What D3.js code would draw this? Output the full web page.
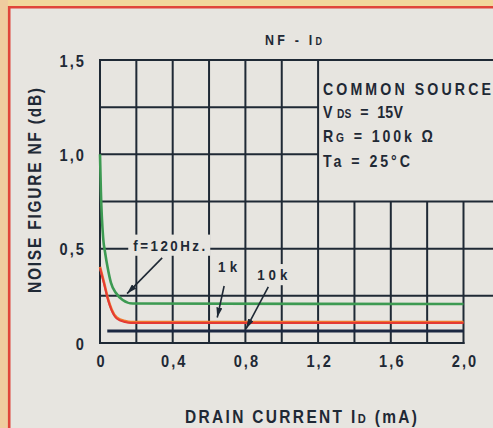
<!DOCTYPE html>
<html>
<head>
<meta charset="utf-8">
<script src="https://cdn.jsdelivr.net/npm/d3@7"></script>
<style>
  html, body { margin: 0; padding: 0; background: #e7e5e0; }
  svg { display: block; }
  text { white-space: pre; }
</style>
</head>
<body>
<svg id="chart" width="493" height="428"></svg>
<script>
// NF - ID characteristic: noise figure vs drain current at three frequencies

const xTicks = [0, 0.4, 0.8, 1.2, 1.6, 2.0];
const xTickLabels = ["0", "0,4", "0,8", "1,2", "1,6", "2,0"];
const yTicks = [0, 0.5, 1.0, 1.5];
const yTickLabels = ["0", "0,5", "1,0", "1,5"];

// grid divisions (mA, dB)
const gridXFull = [0.2, 0.4, 0.6, 0.8, 1.0, 1.2];   // run the full height
const gridXLow = [1.4, 1.6, 1.8, 2.0];              // stop under the condition box
const gridYFull = [0.25, 0.5, 0.75];                // run past the last column
const gridYShort = [1.0, 1.25];                     // left part only

// curves: [drain current mA, noise figure dB]
const nf120Hz = [[0, 1.0], [0.005, 0.8], [0.018, 0.55], [0.028, 0.48], [0.042, 0.40],
                 [0.06, 0.32], [0.088, 0.265], [0.125, 0.228], [0.18, 0.209], [2.0, 0.207]];
const nf1kHz = [[0, 0.40], [0.022, 0.318], [0.045, 0.228], [0.064, 0.175], [0.092, 0.132],
                [0.138, 0.113], [0.17, 0.108], [2.0, 0.108]];
const nf10kHz = [[0.04, 0.064], [2.0, 0.064]];

// callouts: label anchor and arrow (tail -> head), all in data units
const callouts = [
  { label: "f=120Hz.", lx: 0.381, ly: 0.49, w: 72, tail: [0.342, 0.451], head: [0.149, 0.262] },
  { label: "1k", lx: 0.702, ly: 0.376, w: 19, tail: [0.683, 0.302], head: [0.645, 0.135] },
  { label: "10k", lx: 0.948, ly: 0.334, w: 30, tail: [0.926, 0.297], head: [0.804, 0.076] }
];

const W = 493, H = 428;
const ink = "#1f2935";
const paper = "#e7e5e0";
const font = "'Liberation Sans',Arial,sans-serif";
const SX = 0.86;   // horizontal squeeze for the condensed lettering

const svg = d3.select("#chart");

// page edge: tinted band and red frame
svg.append("rect").attr("x", 0).attr("y", 0).attr("width", W).attr("height", 6).attr("fill", "#f1d79c");
svg.append("rect").attr("x", 0).attr("y", 0).attr("width", 8).attr("height", H).attr("fill", "#efcc9f");
svg.append("path").attr("d", `M9.2,${H} V7.2 H${W}`).attr("fill", "none")
  .attr("stroke", "#e0453a").attr("stroke-width", 2.6);

const x = d3.scaleLinear().domain([0, 2.0]).range([100, 463.5]);
const y = d3.scaleLinear().domain([0, 1.5]).range([343, 60]);

// grid
const grid = svg.append("g").attr("stroke", ink).attr("stroke-width", 2).attr("fill", "none");
grid.append("line").attr("x1", x(0)).attr("x2", x(0)).attr("y1", y(0) + 1).attr("y2", y(1.5) - 1);
grid.selectAll(".vf").data(gridXFull).join("line")
  .attr("x1", d => x(d)).attr("x2", d => x(d)).attr("y1", y(0)).attr("y2", y(1.5));
grid.selectAll(".vl").data(gridXLow).join("line")
  .attr("x1", d => x(d)).attr("x2", d => x(d)).attr("y1", y(0) + 1).attr("y2", y(0.75));
grid.append("line").attr("x1", x(0) - 1).attr("x2", W).attr("y1", y(1.5)).attr("y2", y(1.5));
grid.append("line").attr("x1", x(0) - 1).attr("x2", x(2.0) + 1).attr("y1", y(0)).attr("y2", y(0));
grid.selectAll(".hf").data(gridYFull).join("line")
  .attr("x1", x(0)).attr("x2", W).attr("y1", d => y(d)).attr("y2", d => y(d));
grid.selectAll(".hs").data(gridYShort).join("line")
  .attr("x1", x(0)).attr("x2", x(1.2)).attr("y1", d => y(d)).attr("y2", d => y(d));

// curves
const line = d3.line().x(d => x(d[0])).y(d => y(d[1])).curve(d3.curveMonotoneX);
svg.append("path").datum(nf10kHz).attr("d", line).attr("fill", "none")
  .attr("stroke", "#1c2842").attr("stroke-width", 3);
svg.append("path").datum(nf1kHz).attr("d", line).attr("fill", "none")
  .attr("stroke", "#f0782c").attr("stroke-width", 2.6).attr("transform", "translate(0,-0.6)");
svg.append("path").datum(nf1kHz).attr("d", line).attr("fill", "none")
  .attr("stroke", "#e43a34").attr("stroke-width", 2).attr("transform", "translate(0,0.4)");
svg.append("path").datum(nf120Hz).attr("d", line).attr("fill", "none")
  .attr("stroke", "#3d9a52").attr("stroke-width", 2.6);

// axes (labels only; the grid supplies the lines)
const xAxis = svg.append("g").attr("transform", `translate(0,${y(0)})`)
  .call(d3.axisBottom(x).tickValues(xTicks).tickSize(0).tickPadding(0)
    .tickFormat((d, i) => xTickLabels[i]));
const yAxis = svg.append("g").attr("transform", `translate(${x(0)},0)`)
  .call(d3.axisLeft(y).tickValues(yTicks).tickSize(0).tickPadding(0)
    .tickFormat((d, i) => yTickLabels[i]));
[xAxis, yAxis].forEach(a => {
  a.select(".domain").remove();
  a.selectAll("text").attr("font-family", font).attr("font-weight", "bold")
    .attr("font-size", 17).attr("fill", ink).attr("letter-spacing", 2.4);
});
xAxis.selectAll("text").attr("x", 1.2).attr("y", 0).attr("dy", 0)
  .attr("transform", `translate(0,24) scale(${SX},1)`);
yAxis.selectAll("text").attr("x", 0).attr("dy", 0)
  .attr("transform", `translate(-14,6) scale(${SX},1)`);

// text block with optional small-cap runs, squeezed horizontally
function label(parent, parts, o) {
  const g = parent.append("g")
    .attr("transform", `translate(${o.x},${o.y}) ${o.rotate ? "rotate(" + o.rotate + ")" : ""} scale(${SX},1)`);
  const bg = o.bg ? g.append("rect").attr("fill", paper) : null;
  const t = g.append("text").attr("x", 0).attr("y", 0)
    .attr("font-family", font).attr("font-weight", "bold")
    .attr("font-size", o.size).attr("fill", ink)
    .attr("text-anchor", o.anchor || "start");
  parts.forEach(p => {
    const s = t.append("tspan").text(p.t);
    if (p.small) s.attr("font-size", o.size * 0.72);
  });
  if (o.len) t.attr("textLength", o.len / SX).attr("lengthAdjust", "spacing");
  if (bg) {
    const b = t.node().getBBox();
    bg.attr("x", b.x - 5 / SX).attr("y", b.y - 2).attr("width", b.width + 10 / SX).attr("height", b.height + 4);
  }
  return g;
}

// title
label(svg, [{ t: "NF - I" }, { t: "D", small: true }], { x: 265, y: 45, size: 14.5, len: 57 });

// measurement conditions
const cond = svg.append("g");
label(cond, [{ t: "COMMON SOURCE" }], { x: 323, y: 95, size: 16.5, len: 168 });
label(cond, [{ t: "V " }, { t: "DS", small: true }, { t: "  =  15V" }], { x: 323, y: 118, size: 16.5, len: 80 });
label(cond, [{ t: "R" }, { t: "G", small: true }, { t: " = 100k Ω" }], { x: 323, y: 142, size: 16.5, len: 110 });
label(cond, [{ t: "Ta = 25°C" }], { x: 323, y: 167, size: 16.5, len: 87 });

// axis titles
label(svg, [{ t: "DRAIN CURRENT I" }, { t: "D", small: true }, { t: " (mA)" }],
  { x: 185, y: 423, size: 18, len: 232 });
label(svg, [{ t: "NOISE FIGURE NF (dB)" }],
  { x: 41, y: 190.5, size: 18, len: 205, anchor: "middle", rotate: -90 });

// callouts
svg.append("defs").append("marker").attr("id", "head")
  .attr("viewBox", "0 0 10 6").attr("refX", 10).attr("refY", 3)
  .attr("markerWidth", 10).attr("markerHeight", 6).attr("markerUnits", "userSpaceOnUse")
  .attr("orient", "auto")
  .append("path").attr("d", "M0,0 L10,3 L0,6 Z").attr("fill", ink);

const ann = svg.append("g");
callouts.forEach(c => {
  label(ann, [{ t: c.label }], { x: x(c.lx), y: y(c.ly), size: 15.5, anchor: "middle", len: c.w, bg: true });
  ann.append("line")
    .attr("x1", x(c.tail[0])).attr("y1", y(c.tail[1]))
    .attr("x2", x(c.head[0])).attr("y2", y(c.head[1]))
    .attr("stroke", ink).attr("stroke-width", 1.6).attr("marker-end", "url(#head)");
});
</script>
</body>
</html>
